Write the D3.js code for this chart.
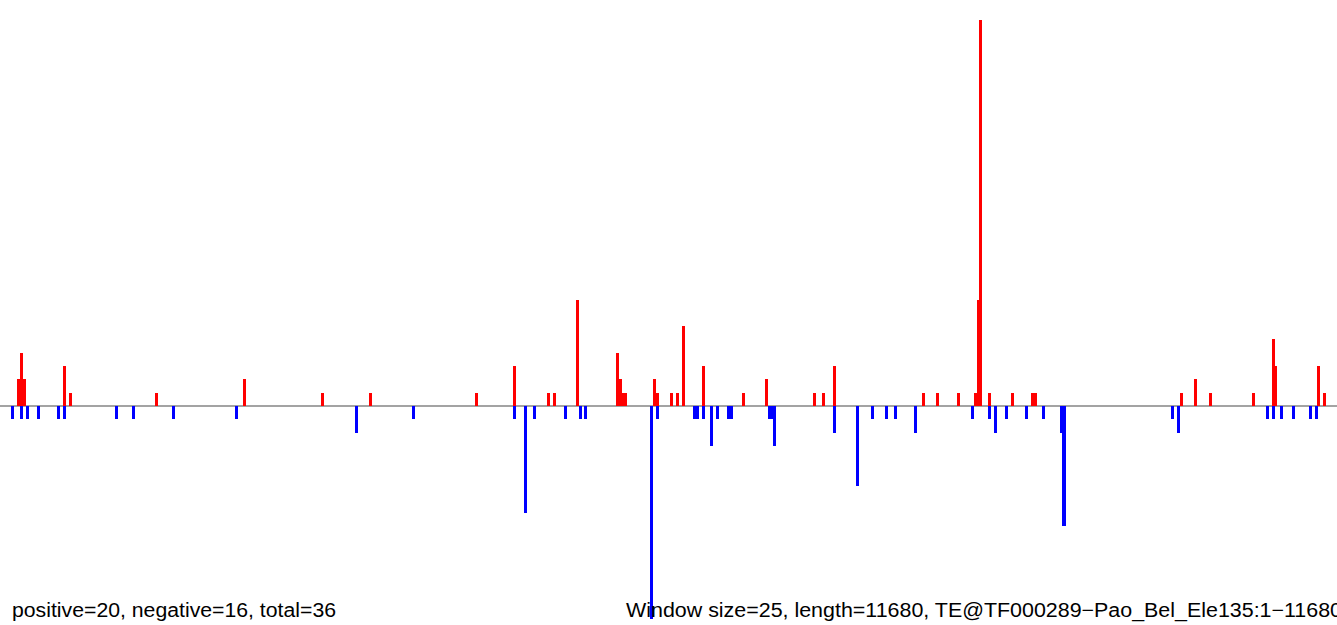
<!DOCTYPE html>
<html>
<head>
<meta charset="utf-8">
<script src="https://cdn.jsdelivr.net/npm/d3@7"></script>
<style>
  html, body { margin: 0; padding: 0; background: #fff; overflow: hidden; }
  svg { display: block; }
</style>
</head>
<body>
<div id="chart"></div>
<script>
// ---- data ----
const windowSize = 25;
const seqLength = 11680;
// window index (start = index * windowSize) and counts for the positive strand
const posWindows = [6,7,8,22,24,54,85,112,129,166,179,191,193,201,215,216,217,218,228,229,234,236,238,245,259,267,284,287,291,322,327,334,340,341,342,345,353,360,361,412,417,422,437,444,445,460,462];
const posCounts  = [2,4,2,3,1,1,2,1,1,1,3,1,1,8,4,2,1,1,2,1,1,1,6,3,1,2,1,1,3,1,1,1,1,8,29,1,1,1,1,1,2,1,1,5,3,3,1];
// window index and counts for the negative strand
const negWindows = [4,7,9,13,20,22,40,46,60,82,124,144,179,183,186,197,202,204,227,229,242,243,245,248,250,254,255,268,269,270,291,299,304,309,312,319,339,345,347,351,358,364,370,371,409,411,442,444,447,451,457,459];
const negCounts  = [1,1,1,1,1,1,1,1,1,1,2,1,1,8,1,1,1,1,16,1,1,1,1,3,1,1,1,1,1,3,2,6,1,1,1,2,1,1,2,1,1,1,2,9,1,2,1,1,1,1,1,1];
const leftLabel = "positive=20, negative=16, total=36";
const rightLabel = "Window size=25, length=11680, TE@TF000289\u2212Pao_Bel_Ele135:1\u221211680";

// ---- layout ----
const W = 1337, H = 625;
const svg = d3.select("#chart").append("svg").attr("width", W).attr("height", H);

const x = d3.scaleLinear().domain([0, seqLength]).range([0, 1338]);
const y = d3.scaleLinear().domain([-16, 29]).range([619, 20]);
const bw = x(windowSize) - x(0) + 0.15;

// baseline
svg.append("line")
  .attr("x1", 0).attr("x2", W)
  .attr("y1", y(0)).attr("y2", y(0))
  .attr("stroke", "#a3a3a3").attr("stroke-width", 2);

const pos = posWindows.map((w, i) => ({ start: w * windowSize, v: posCounts[i] }));
const neg = negWindows.map((w, i) => ({ start: w * windowSize, v: negCounts[i] }));

svg.append("g").selectAll("rect").data(pos).join("rect")
  .attr("x", d => x(d.start))
  .attr("width", bw)
  .attr("y", d => y(d.v))
  .attr("height", d => y(0) - y(d.v))
  .attr("fill", "#ff0000")
  .attr("shape-rendering", "crispEdges");

svg.append("g").selectAll("rect").data(neg).join("rect")
  .attr("x", d => x(d.start))
  .attr("width", bw)
  .attr("y", y(0))
  .attr("height", d => y(-d.v) - y(0))
  .attr("fill", "#0000ff")
  .attr("shape-rendering", "crispEdges");

// labels
svg.append("text")
  .attr("x", 12).attr("y", 617)
  .attr("font-family", "'Liberation Sans', Arial, sans-serif")
  .attr("font-size", 20)
  .attr("textLength", 324)
  .attr("lengthAdjust", "spacingAndGlyphs")
  .attr("fill", "#000")
  .text(leftLabel);

svg.append("text")
  .attr("x", 626).attr("y", 617)
  .attr("font-family", "'Liberation Sans', Arial, sans-serif")
  .attr("font-size", 20)
  .attr("textLength", 716)
  .attr("lengthAdjust", "spacingAndGlyphs")
  .attr("fill", "#000")
  .text(rightLabel);
</script>
</body>
</html>
